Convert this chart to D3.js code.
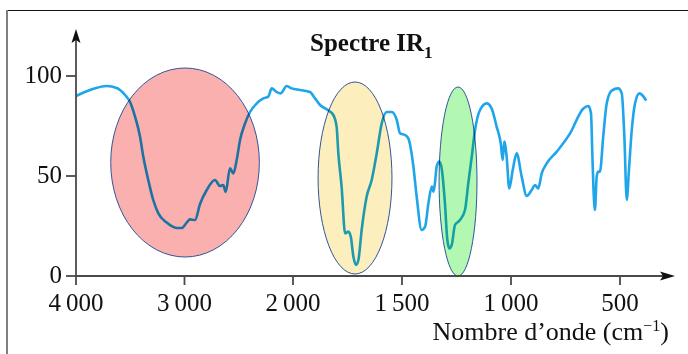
<!DOCTYPE html>
<html><head><meta charset="utf-8">
<script src="https://cdn.jsdelivr.net/npm/d3@7"></script>
<style>
body{margin:0;background:#fff;}
svg{display:block;font-family:"Liberation Serif","DejaVu Serif",serif;}
</style></head>
<body><svg id="c" width="688" height="354"></svg>
<script>
// Wavenumber (cm-1) and transmittance (%)
const wavenumbers = [4000,3871,3717,3625,3548,3502,3456,3410,3380,3334,3288,3241,3164,3072,3026,2980,2949,2903,2857,2795,2719,2673,2643,2620,2581,2550,2519,2488,2442,2396,2334,2274,2228,2196,2150,2113,2058,2012,
1968,1922,1899,1876,1845,1815,1800,1792,1777,1761,1746,1735,1723,1711,1700,1685,1662,1639,1616,1593,1570,1547,1524,1509,1486,1471,1448,1433,1410,1394,1379,1363,1356,1349,1341,1329,1318,1303,1292,1283,1272,1257,1234,1211,1196,1180,1165,1142,1111,1089,1066,1047,1038,1031,1020,1008,992,974,951,928,905,890,875,859,836,790,729,668,645,633,627,622,615,607,600,592,577,561,538,508,492,480,469,459,446,431,411,392,380];
const transmittance = [90,93,95,94,90.5,87,79.7,69.7,59.7,48,38,31.3,26.7,24,24,26.7,28.3,28,36,43,48,45,45.5,42,53.8,51.3,58,68,76.3,82,86.3,88.8,89.7,93.8,92,91.3,95,93.8,
93,92,88.8,85.5,83.3,80.5,74.7,61.3,44.7,21.3,22.2,19.7,9.7,5.5,8,23,39.7,48,61.3,76.3,82,82,78,71.3,70.5,68.8,55,40,23,24.7,36.3,44.7,42.2,46.3,54.7,57.2,53.8,36.3,18,13.8,15.5,25.5,28,33,46.3,59.7,73,83,86.3,83.8,74.7,66.3,58,67.2,59.7,43.8,53,61.3,49.7,40,43,45.5,43.8,51.3,56.3,62.2,71.3,83.8,85,81.3,61.3,44.7,33,49.7,52.2,52.2,69.7,86.3,92.7,93.8,91.3,69.7,38,53,73,86.3,91.3,89.7,87.7];
const xTicks = [4000,3000,2000,1500,1000,500];
const yTicks = [0,50,100];
const title = "Spectre IR";
const titleSub = "1";
const xLabel = "Nombre d\u2019onde (cm";
// highlighted zones: wavenumber range and transmittance range
const zoneNames = ["O–H","C=O","C–O"];
const zoneWn = [[3680,2310],[1885,1546],[1330,1156]];
const zoneT = [[9.5,104],[1,97],[0,94.5]];
const zoneFill = ["#fbb0b0","#fdeebe","#b2f8b2"];

const svg = d3.select("#c");
const x = d3.scaleLinear().domain([4000,2000,500]).range([76,293,620]);
const y = d3.scaleLinear().domain([0,100]).range([276,76]);
const axisCol = "#4a4a4a";

// frame
svg.append("line").attr("x1",7).attr("x2",688).attr("y1",10.5).attr("y2",10.5).attr("stroke","#111").attr("stroke-width",1.2);
svg.append("line").attr("x1",7).attr("x2",7).attr("y1",10).attr("y2",354).attr("stroke","#808080").attr("stroke-width",2);

// curve
const pts = wavenumbers.map((w,i)=>[w,transmittance[i]]);
const line = d3.line().x(d=>x(d[0])).y(d=>y(d[1])).curve(d3.curveMonotoneX);
svg.append("path").datum(pts).attr("d",line).attr("fill","none")
  .attr("stroke","#1ea5ea").attr("stroke-width",2.6).attr("stroke-linejoin","round");

// ellipses (multiply over curve)
zoneWn.forEach((wr,i)=>{
  const x0=x(wr[0]), x1=x(wr[1]), y0=y(zoneT[i][1]), y1=y(zoneT[i][0]);
  svg.append("ellipse").attr("cx",(x0+x1)/2).attr("cy",(y0+y1)/2)
    .attr("rx",(x1-x0)/2).attr("ry",(y1-y0)/2)
    .attr("fill",zoneFill[i]).attr("stroke","#2f5597").attr("stroke-width",1)
    .style("mix-blend-mode","multiply");
});

// axes
const g = svg.append("g");
const x0p = x(4000), y0p = y(0);
g.append("line").attr("x1",x0p).attr("x2",668).attr("y1",y0p).attr("y2",y0p).attr("stroke",axisCol).attr("stroke-width",1.8);
g.append("path").attr("d",`M675,${y0p} L660,${y0p-4.5} L663,${y0p} L660,${y0p+4.5} Z`).attr("fill","#111");
g.append("line").attr("x1",x0p).attr("x2",x0p).attr("y1",y0p).attr("y2",38).attr("stroke",axisCol).attr("stroke-width",1.8);
g.append("path").attr("d",`M${x0p},29 L${x0p-4.5},43 L${x0p},40 L${x0p+4.5},43 Z`).attr("fill","#111");

const fmt = v => v>=1000 ? Math.floor(v/1000)+"\u2009"+String(v%1000).padStart(3,"0") : String(v);
xTicks.forEach(t=>{
  g.append("line").attr("x1",x(t)).attr("x2",x(t)).attr("y1",y0p).attr("y2",y0p+9).attr("stroke",axisCol).attr("stroke-width",1.8);
  g.append("text").attr("x",x(t)).attr("y",311).attr("text-anchor","middle").attr("font-size",25).attr("fill","#111").text(fmt(t));
});
yTicks.forEach(t=>{
  g.append("line").attr("x1",x0p-10).attr("x2",x0p).attr("y1",y(t)).attr("y2",y(t)).attr("stroke",axisCol).attr("stroke-width",1.8);
  g.append("text").attr("x",62).attr("y",y(t)+7).attr("text-anchor","end").attr("font-size",25).attr("fill","#111").text(t);
});

// x label
const xl = svg.append("text").attr("x",669).attr("y",340).attr("text-anchor","end").attr("font-size",26).attr("fill","#111");
xl.append("tspan").text(xLabel);
xl.append("tspan").attr("dy",-9).attr("font-size",16).text("\u22121");
xl.append("tspan").attr("dy",9).text(")");

// title
const tt = svg.append("text").attr("x",310).attr("y",51).attr("font-size",25).attr("font-weight","bold").attr("fill","#111");
tt.append("tspan").text(title);
tt.append("tspan").attr("dy",7).attr("font-size",17).text(titleSub);
</script></body></html>
